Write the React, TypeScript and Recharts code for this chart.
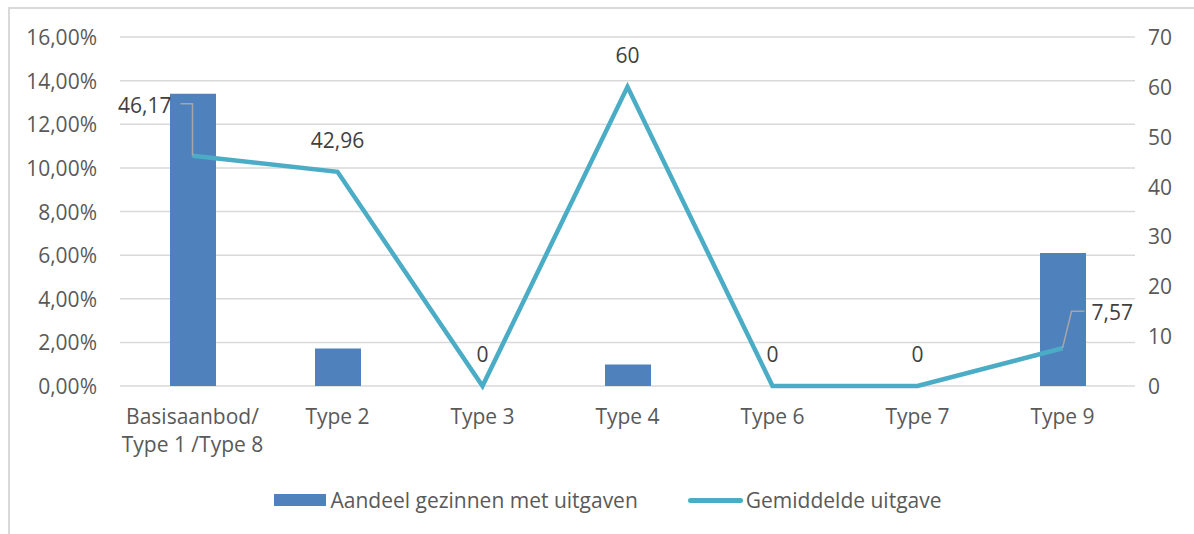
import {
  ComposedChart,
  Bar,
  Line,
  XAxis,
  YAxis,
  CartesianGrid,
  LabelList
} from "recharts";

const categories = [
  "Basisaanbod/\nType 1 /Type 8",
  "Type 2",
  "Type 3",
  "Type 4",
  "Type 6",
  "Type 7",
  "Type 9"
];
const aandeel = [0.134, 0.0172, 0, 0.0098, 0, 0, 0.061];
const gemiddelde = [46.17, 42.96, 0, 60, 0, 0, 7.57];
const leftTicks = [0, 0.02, 0.04, 0.06, 0.08, 0.1, 0.12, 0.14, 0.16];
const rightTicks = [0, 10, 20, 30, 40, 50, 60, 70];

const data = categories.map((c, i) => ({
  name: c,
  aandeel: aandeel[i],
  gemiddelde: gemiddelde[i]
}));

const TEXT = "#595959";
const LABEL = "#404040";
const BAR = "#4F81BD";
const LINE = "#4BACC6";
const FONT = "'Open Sans', sans-serif";
const FS = 21;

const fmtPct = (v: number) => (v * 100).toFixed(2).replace(".", ",") + "%";
const fmtNum = (v: number) => String(v).replace(".", ",");

function XTick(props: any) {
  const { x, y, payload } = props;
  const lines = String(payload.value).split("\n");
  return (
    <text x={x} y={y} textAnchor="middle" fill={TEXT} fontSize={FS} fontFamily={FONT}>
      {lines.map((l: string, i: number) => (
        <tspan key={i} x={x} dy={i === 0 ? 38 : 28}>{l}</tspan>
      ))}
    </text>
  );
}

function LeftTick(props: any) {
  const { x, y, payload } = props;
  return (
    <text x={x} y={y} textAnchor="end" dominantBaseline="central" fill={TEXT} fontSize={FS} fontFamily={FONT}>
      {fmtPct(payload.value)}
    </text>
  );
}

function RightTick(props: any) {
  const { x, y, payload } = props;
  return (
    <text x={x} y={y} textAnchor="start" dominantBaseline="central" fill={TEXT} fontSize={FS} fontFamily={FONT}>
      {payload.value}
    </text>
  );
}

function LineLabel(props: any) {
  const { x, y, value, index } = props;
  const txt = fmtNum(value);
  const common = { fill: LABEL, fontSize: FS, fontFamily: FONT, dominantBaseline: "central" as const };
  if (index === 0) {
    return (
      <g>
        <polyline points={`${x},${y} ${x},${y - 52} ${x - 12},${y - 52}`} fill="none" stroke="#a6a6a6" strokeWidth={1.5} />
        <text x={x - 21} y={y - 51} textAnchor="end" {...common}>{txt}</text>
      </g>
    );
  }
  if (index === 6) {
    return (
      <g>
        <polyline points={`${x},${y} ${x + 9},${y - 37} ${x + 22},${y - 37}`} fill="none" stroke="#a6a6a6" strokeWidth={1.5} />
        <text x={x + 29} y={y - 36} textAnchor="start" {...common}>{txt}</text>
      </g>
    );
  }
  return (
    <text x={x} y={y - 32} textAnchor="middle" {...common}>{txt}</text>
  );
}

function ChartLegend() {
  return (
    <div
      style={{
        position: "absolute",
        left: 0,
        top: 486,
        width: 1194,
        display: "flex",
        justifyContent: "center",
        alignItems: "center",
        fontFamily: FONT,
        fontSize: FS,
        color: TEXT,
        lineHeight: "28px"
      }}
    >
      <div style={{ display: "flex", alignItems: "center", marginRight: 50, marginLeft: 22 }}>
        <div style={{ width: 52, height: 12, background: BAR, marginRight: 4 }} />
        <span>Aandeel gezinnen met uitgaven</span>
      </div>
      <div style={{ display: "flex", alignItems: "center" }}>
        <div style={{ width: 55, height: 5, borderRadius: 3, background: LINE, marginRight: 3 }} />
        <span>Gemiddelde uitgave</span>
      </div>
    </div>
  );
}

export default function App() {
  return (
    <div style={{ position: "absolute", left: 0, top: 0, width: 1194, height: 534, background: "#fff", fontFamily: FONT, overflow: "hidden" }}>
      <div style={{ position: "absolute", left: 8, top: 7, width: 1200, height: 540, borderLeft: "2px solid #d9d9d9", borderTop: "2px solid #d9d9d9" }} />
      <ComposedChart
        width={1194}
        height={534}
        data={data}
        margin={{ top: 37, right: 0, bottom: 78, left: 0 }}
        barSize={46}
        style={{ position: "absolute", left: 0, top: 0 }}
      >
        <CartesianGrid yAxisId="left" vertical={false} stroke="#d9d9d9" strokeWidth={1.5} />
        <XAxis
          dataKey="name"
          axisLine={false}
          tickLine={false}
          tickSize={0}
          tickMargin={0}
          height={70}
          interval={0}
          tick={<XTick />}
        />
        <YAxis
          yAxisId="left"
          orientation="left"
          width={120}
          domain={[0, 0.16]}
          ticks={leftTicks}
          axisLine={false}
          tickLine={false}
          tickSize={0}
          tickMargin={23}
          tick={<LeftTick />}
        />
        <YAxis
          yAxisId="right"
          orientation="right"
          width={59}
          domain={[0, 70]}
          ticks={rightTicks}
          axisLine={false}
          tickLine={false}
          tickSize={0}
          tickMargin={13}
          tick={<RightTick />}
        />
        <Bar yAxisId="left" dataKey="aandeel" fill={BAR} isAnimationActive={false} />
        <Line
          yAxisId="right"
          type="linear"
          dataKey="gemiddelde"
          stroke={LINE}
          strokeWidth={4.5}
          dot={false}
          activeDot={false}
          isAnimationActive={false}
        >
          <LabelList dataKey="gemiddelde" content={<LineLabel />} />
        </Line>
      </ComposedChart>
      <ChartLegend />
    </div>
  );
}
